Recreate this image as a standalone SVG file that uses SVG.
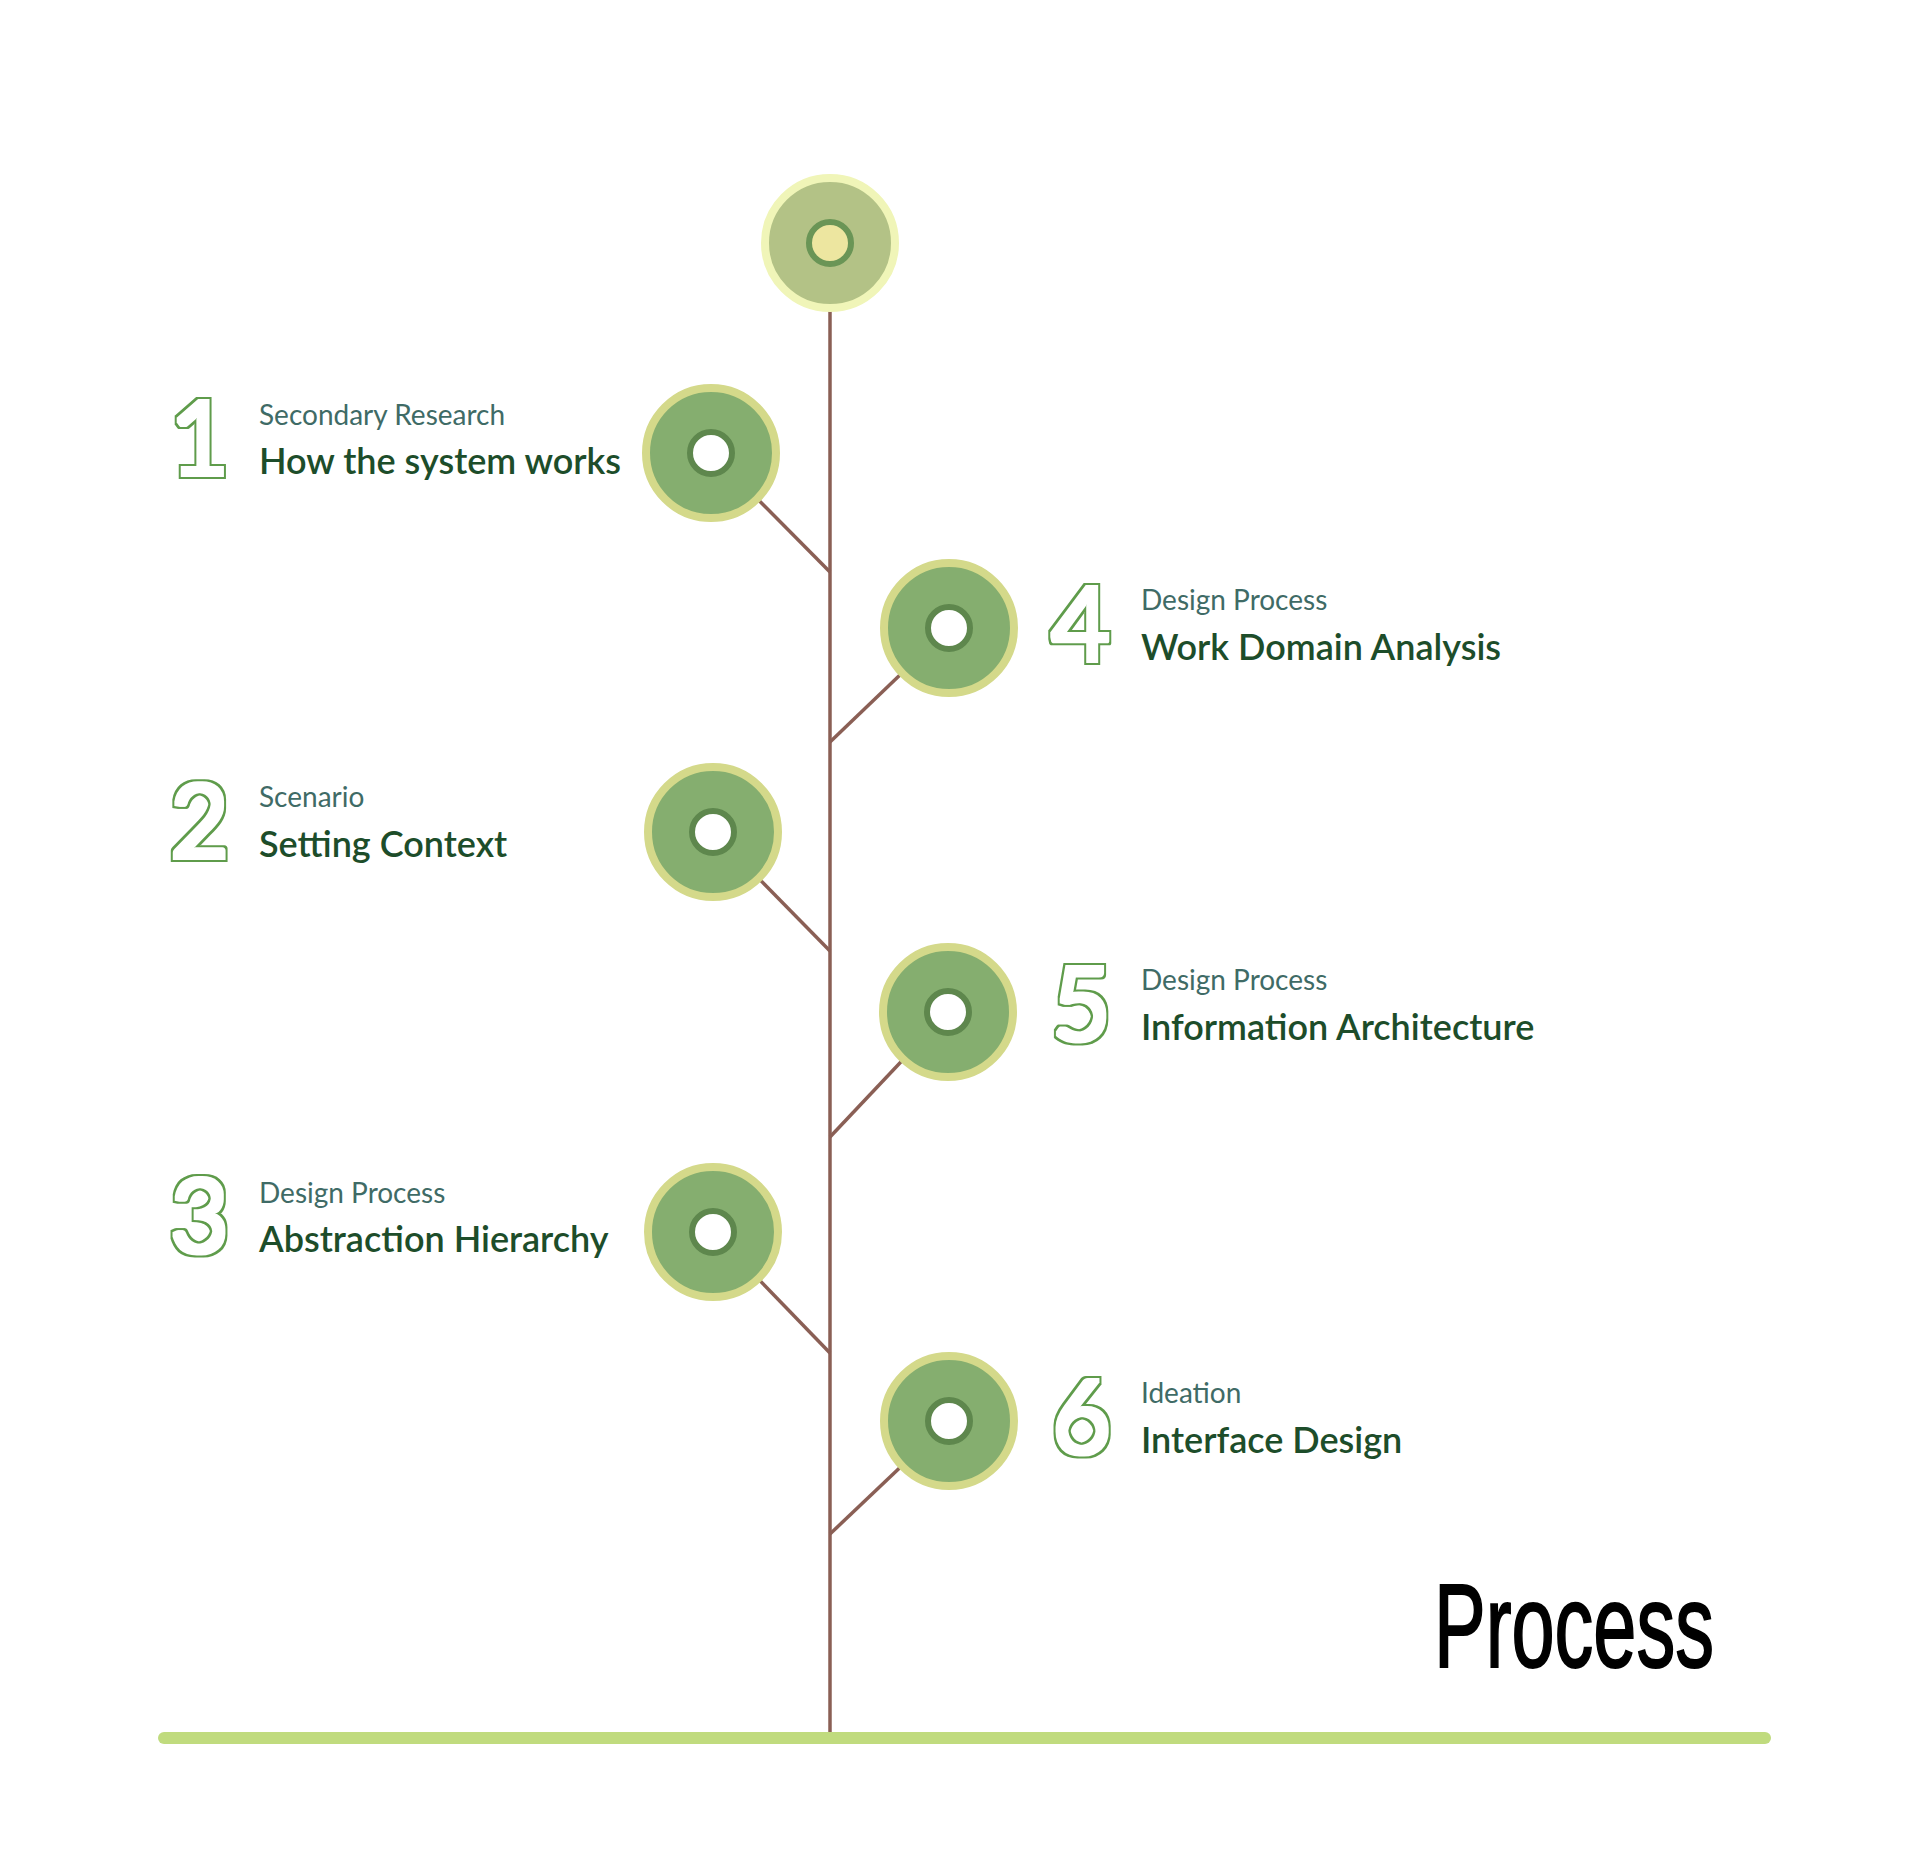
<svg xmlns="http://www.w3.org/2000/svg" width="1920" height="1853" viewBox="0 0 1920 1853">
  <style>
    .bg { fill: #ffffff; }
    .stem { stroke: #8a5f55; stroke-width: 3.5; fill: none; }
    .branch { stroke: #8a5f55; stroke-width: 3.5; fill: none; }
    .ground { stroke: #c0db7e; stroke-width: 12; stroke-linecap: round; fill: none; }
    .outer { fill: #85ae6f; stroke: #d4d98a; stroke-width: 8; }
    .inner { fill: #ffffff; stroke: #5e874d; stroke-width: 6; }
    .num { font-family: Lato, "Liberation Sans", sans-serif; font-size: 102px; font-weight: 400; fill: #6aa556; filter: url(#outline); }
    .sub { font-family: Lato, "Liberation Sans", sans-serif; font-size: 28px; font-weight: 400; fill: #3f6b66; }
    .main { font-family: Lato, "Liberation Sans", sans-serif; font-size: 36px; font-weight: 600; fill: #1d4d2a; }
    .title { font-family: "Liberation Sans Narrow", "Liberation Sans", sans-serif; font-size: 118px; font-weight: 400; fill: #000000; stroke: #000000; stroke-width: 2; }
  </style>
  <defs>
    <filter id="outline" x="-20%" y="-20%" width="140%" height="140%">
      <feMorphology in="SourceAlpha" operator="dilate" radius="1.5" result="a"/>
      <feMorphology in="SourceAlpha" operator="dilate" radius="4" result="b"/>
      <feComposite in="b" in2="a" operator="out" result="ring"/>
      <feFlood flood-color="#5f9c4b" result="c"/>
      <feComposite in="c" in2="ring" operator="in"/>
    </filter>
  </defs>
  <rect class="bg" x="0" y="0" width="1920" height="1853"/>

  <g id="connectors">
    <line class="stem" x1="830" y1="243" x2="830" y2="1732"/>
    <line class="branch" x1="830" y1="572" x2="712" y2="453"/>
    <line class="branch" x1="830" y1="742" x2="949" y2="628"/>
    <line class="branch" x1="830" y1="951" x2="713" y2="832"/>
    <line class="branch" x1="830" y1="1137" x2="948" y2="1012"/>
    <line class="branch" x1="830" y1="1353" x2="713" y2="1232"/>
    <line class="branch" x1="830" y1="1534" x2="949" y2="1421"/>
    <line class="ground" x1="164" y1="1738" x2="1765" y2="1738"/>
  </g>

  <g id="node-top">
    <circle cx="830" cy="243" r="65" fill="#b3c286" stroke="#f0f5b8" stroke-width="8"/>
    <circle cx="830" cy="243" r="21" fill="#ede6a0" stroke="#6a9556" stroke-width="6"/>
  </g>

  <g id="node-1">
    <circle class="outer" cx="711" cy="453" r="65"/>
    <circle class="inner" cx="711" cy="453" r="21"/>
    <text class="num" x="170" y="475">1</text>
    <text class="sub" x="259" y="425">Secondary Research</text>
    <text class="main" x="259" y="474">How the system works</text>
  </g>

  <g id="node-4">
    <circle class="outer" cx="949" cy="628" r="65"/>
    <circle class="inner" cx="949" cy="628" r="21"/>
    <text class="num" x="1051" y="661">4</text>
    <text class="sub" x="1141" y="610">Design Process</text>
    <text class="main" x="1141" y="660">Work Domain Analysis</text>
  </g>

  <g id="node-2">
    <circle class="outer" cx="713" cy="832" r="65"/>
    <circle class="inner" cx="713" cy="832" r="21"/>
    <text class="num" x="170" y="858">2</text>
    <text class="sub" x="259" y="807">Scenario</text>
    <text class="main" x="259" y="857">Setting Context</text>
  </g>

  <g id="node-5">
    <circle class="outer" cx="948" cy="1012" r="65"/>
    <circle class="inner" cx="948" cy="1012" r="21"/>
    <text class="num" x="1052" y="1041">5</text>
    <text class="sub" x="1141" y="990">Design Process</text>
    <text class="main" x="1141" y="1040">Information Architecture</text>
  </g>

  <g id="node-3">
    <circle class="outer" cx="713" cy="1232" r="65"/>
    <circle class="inner" cx="713" cy="1232" r="21"/>
    <text class="num" x="170" y="1253">3</text>
    <text class="sub" x="259" y="1203">Design Process</text>
    <text class="main" x="259" y="1252">Abstraction Hierarchy</text>
  </g>

  <g id="node-6">
    <circle class="outer" cx="949" cy="1421" r="65"/>
    <circle class="inner" cx="949" cy="1421" r="21"/>
    <text class="num" x="1052" y="1454">6</text>
    <text class="sub" x="1141" y="1403">Ideation</text>
    <text class="main" x="1141" y="1453">Interface Design</text>
  </g>

  <g id="title">
    <text class="title" x="1434" y="1667" textLength="280" lengthAdjust="spacingAndGlyphs">Process</text>
  </g>
</svg>
